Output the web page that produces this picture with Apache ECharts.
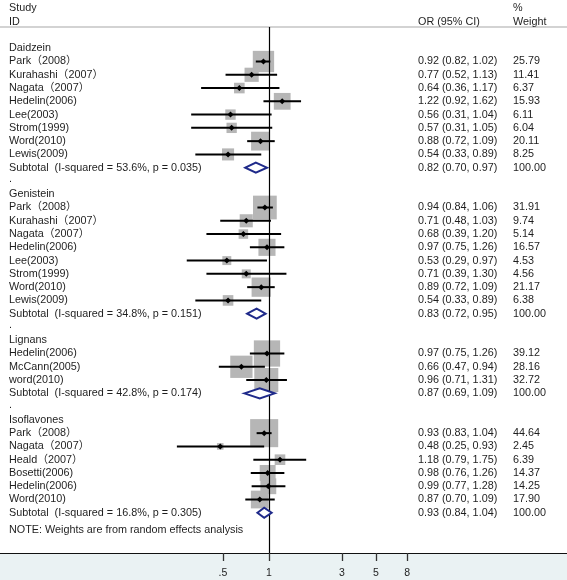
<!DOCTYPE html>
<html><head><meta charset="utf-8">
<script src="https://cdn.jsdelivr.net/npm/echarts@6/dist/echarts.min.js"></script>
<style>html,body{margin:0;padding:0;background:#fff}#c{width:567px;height:580px}</style>
</head><body><div id="c"></div>
<script>
// ---------- data ----------
const groups = ['Daidzein', 'Genistein', 'Lignans', 'Isoflavones'];
const studyGroup = [0,0,0,0,0,0,0,0, 1,1,1,1,1,1,1,1, 2,2,2, 3,3,3,3,3,3];
const studyNames = [
  'Park（2008）','Kurahashi（2007）','Nagata（2007）','Hedelin(2006)','Lee(2003)','Strom(1999)','Word(2010)','Lewis(2009)',
  'Park（2008）','Kurahashi（2007）','Nagata（2007）','Hedelin(2006)','Lee(2003)','Strom(1999)','Word(2010)','Lewis(2009)',
  'Hedelin(2006)','McCann(2005)','word(2010)',
  'Park（2008）','Nagata（2007）','Heald（2007）','Bosetti(2006)','Hedelin(2006)','Word(2010)'
];
const studyOR = [0.92,0.77,0.64,1.22,0.56,0.57,0.88,0.54, 0.94,0.71,0.68,0.97,0.53,0.71,0.89,0.54, 0.97,0.66,0.96, 0.93,0.48,1.18,0.98,0.99,0.87];
const studyLo = [0.82,0.52,0.36,0.92,0.31,0.31,0.72,0.33, 0.84,0.48,0.39,0.75,0.29,0.39,0.72,0.33, 0.75,0.47,0.71, 0.83,0.25,0.79,0.76,0.77,0.70];
const studyHi = [1.02,1.13,1.17,1.62,1.04,1.05,1.09,0.89, 1.06,1.03,1.20,1.26,0.97,1.30,1.09,0.89, 1.26,0.94,1.31, 1.04,0.93,1.75,1.26,1.28,1.09];
const studyWeight = [25.79,11.41,6.37,15.93,6.11,6.04,20.11,8.25, 31.91,9.74,5.14,16.57,4.53,4.56,21.17,6.38, 39.12,28.16,32.72, 44.64,2.45,6.39,14.37,14.25,17.90];
const subtotalLabels = [
  'Subtotal  (I-squared = 53.6%, p = 0.035)',
  'Subtotal  (I-squared = 34.8%, p = 0.151)',
  'Subtotal  (I-squared = 42.8%, p = 0.174)',
  'Subtotal  (I-squared = 16.8%, p = 0.305)'
];
const subtotalOR = [0.82, 0.83, 0.87, 0.93];
const subtotalLo = [0.70, 0.72, 0.69, 0.84];
const subtotalHi = [0.97, 0.95, 1.09, 1.04];
const subtotalWeight = [100.00, 100.00, 100.00, 100.00];
const tickValues = [0.5, 1, 3, 5, 8];
const tickLabels = ['.5', '1', '3', '5', '8'];
const headerLeft = ['Study', 'ID'];
const headerEffect = 'OR (95% CI)';
const headerWeight = ['%', 'Weight'];
const noteText = 'NOTE: Weights are from random effects analysis';

// ---------- layout ----------
const FONT = '"Liberation Sans", Arial, "Noto Sans CJK SC", sans-serif';
const FS = 10.8;
const TXT = '#1e1e1e';
const X_LEFT = 9, X_OR = 418, X_W = 513;
const lg = v => Math.log10(v);
const f2 = v => v.toFixed(2);
const ciText = (o, l, h) => f2(o) + ' (' + f2(l) + ', ' + f2(h) + ')';

const studyRows = [], subRows = [], texts = [];
let r = 0;
groups.forEach((g, gi) => {
  texts.push({ row: r, x: X_LEFT, t: g });
  r++;
  studyGroup.forEach((sg, i) => {
    if (sg !== gi) return;
    studyRows.push([lg(studyOR[i]), r, studyWeight[i], lg(studyLo[i]), lg(studyHi[i])]);
    texts.push({ row: r, x: X_LEFT, t: studyNames[i] });
    texts.push({ row: r, x: X_OR, t: ciText(studyOR[i], studyLo[i], studyHi[i]) });
    texts.push({ row: r, x: X_W, t: f2(studyWeight[i]) });
    r++;
  });
  subRows.push([lg(subtotalOR[gi]), r, lg(subtotalLo[gi]), lg(subtotalHi[gi])]);
  texts.push({ row: r, x: X_LEFT, t: subtotalLabels[gi] });
  texts.push({ row: r, x: X_OR, t: ciText(subtotalOR[gi], subtotalLo[gi], subtotalHi[gi]) });
  texts.push({ row: r, x: X_W, t: f2(subtotalWeight[gi]) });
  r++;
  if (gi < groups.length - 1) { texts.push({ row: r - 0.15, x: X_LEFT, t: '.' }); r++; }
});
texts.push({ row: r + 0.3, x: X_LEFT, t: noteText });
texts.push({ row: -3, x: X_LEFT, t: headerLeft[0] });
texts.push({ row: -2, x: X_LEFT, t: headerLeft[1] });
texts.push({ row: -2, x: X_OR, t: headerEffect });
texts.push({ row: -3, x: X_W, t: headerWeight[0] });
texts.push({ row: -2, x: X_W, t: headerWeight[1] });

const PX_DEC = 153, X_ONE = 269, W = 567;
const xMin = -X_ONE / PX_DEC, xMax = (W - X_ONE) / PX_DEC;
const BOX_K = 4.2;

const chart = echarts.init(document.getElementById('c'), null, { renderer: 'canvas' });
chart.setOption({
  animation: false,
  backgroundColor: '#ffffff',
  graphic: [{ type: 'rect', z: -10, silent: true, shape: { x: 0, y: 553, width: W, height: 27 }, style: { fill: '#eaf2f3' } }],
  grid: { left: 0, right: 0, top: 27, bottom: 27 },
  xAxis: [{
    type: 'value', min: xMin, max: xMax, position: 'bottom',
    splitLine: { show: false },
    axisLine: { show: true, onZero: false, lineStyle: { color: '#111', width: 1.2 } },
    axisTick: { show: true, length: 8, lineStyle: { color: '#333', width: 1.3 }, customValues: tickValues.map(lg) },
    axisLabel: {
      show: true, margin: 15, color: TXT, fontSize: 10.5, fontFamily: FONT,
      customValues: tickValues.map(lg),
      formatter: v => { const k = tickValues.findIndex(t => Math.abs(lg(t) - v) < 1e-6); return k >= 0 ? tickLabels[k] : ''; }
    }
  }, {
    type: 'value', min: xMin, max: xMax, position: 'top',
    splitLine: { show: false }, axisTick: { show: false }, axisLabel: { show: false },
    axisLine: { show: true, onZero: false, lineStyle: { color: '#c4c4c4', width: 1.5 } }
  }],
  yAxis: { type: 'value', inverse: true, min: -1.6, max: 38.03, show: false },
  series: [
    {
      type: 'custom', name: 'boxes', data: studyRows, z: 2,
      renderItem: (p, api) => {
        const c = api.coord([api.value(0), api.value(1)]);
        const s = BOX_K * Math.sqrt(api.value(2));
        return { type: 'rect', shape: { x: c[0] - s / 2, y: c[1] - s / 2, width: s, height: s }, style: { fill: '#b6b6b6' } };
      }
    },
    {
      type: 'custom', name: 'ci', data: studyRows, z: 4,
      renderItem: (p, api) => {
        const c = api.coord([api.value(0), api.value(1)]);
        const a = api.coord([api.value(3), api.value(1)]);
        const b = api.coord([api.value(4), api.value(1)]);
        const d = 3;
        return { type: 'group', children: [
          { type: 'line', shape: { x1: a[0], y1: a[1], x2: b[0], y2: b[1] }, style: { stroke: '#000', lineWidth: 2 } },
          { type: 'polygon', shape: { points: [[c[0] - d, c[1]], [c[0], c[1] - d], [c[0] + d, c[1]], [c[0], c[1] + d]] }, style: { fill: '#000' } }
        ]};
      }
    },
    {
      type: 'custom', name: 'subtotal', data: subRows, z: 5,
      renderItem: (p, api) => {
        const c = api.coord([api.value(0), api.value(1)]);
        const a = api.coord([api.value(2), api.value(1)]);
        const b = api.coord([api.value(3), api.value(1)]);
        const h = 5;
        return { type: 'polygon', shape: { points: [[a[0], c[1]], [c[0], c[1] - h], [b[0], c[1]], [c[0], c[1] + h]] },
          style: { fill: '#ffffff', stroke: '#1f2a8a', lineWidth: 2 } };
      }
    },
    {
      type: 'custom', name: 'texts', data: texts.map(t => [0, t.row]), z: 6, clip: false,
      renderItem: (p, api) => {
        const t = texts[p.dataIndex];
        const y = api.coord([0, t.row])[1];
        return { type: 'text', style: { text: t.t, x: t.x, y: y, fill: TXT, font: FS + 'px ' + FONT,
          align: 'left', verticalAlign: 'middle', textAlign: 'left', textVerticalAlign: 'middle' } };
      }
    },
    {
      type: 'line', name: 'ref', data: [], z: 3,
      markLine: { silent: true, symbol: 'none', label: { show: false },
        lineStyle: { color: '#000', width: 1.2, type: 'solid' }, data: [{ xAxis: 0 }] }
    }
  ]
});
</script></body></html>
